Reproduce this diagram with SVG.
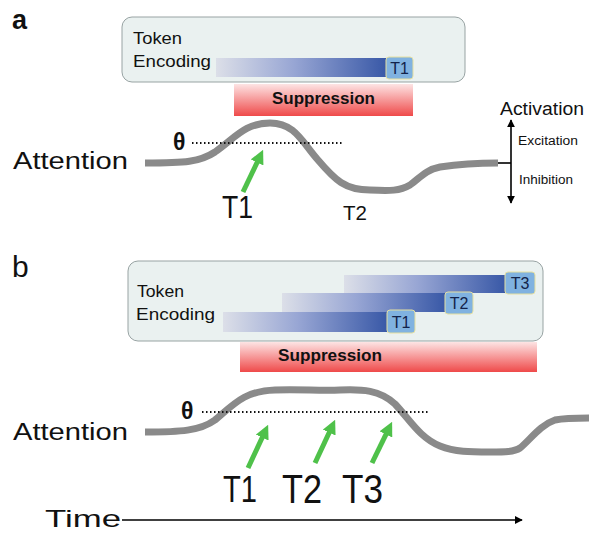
<svg xmlns="http://www.w3.org/2000/svg" width="589" height="533" viewBox="0 0 589 533">
<defs>
<linearGradient id="enc" x1="0" y1="0" x2="1" y2="0">
<stop offset="0" stop-color="#dcdfe8"/>
<stop offset="0.45" stop-color="#98a6d4"/>
<stop offset="1" stop-color="#3757a6"/>
</linearGradient>
<linearGradient id="sup" x1="0" y1="0" x2="0" y2="1">
<stop offset="0" stop-color="#fde4e4"/>
<stop offset="1" stop-color="#ef4a4a"/>
</linearGradient>
<marker id="gh" viewBox="0 0 10 10" refX="2" refY="5" markerWidth="14" markerHeight="14" markerUnits="userSpaceOnUse" orient="auto">
<path d="M0,0 L10,5 L0,10 z" fill="#4fc14a"/>
</marker>
<marker id="bh" viewBox="0 0 10 10" refX="9" refY="5" markerWidth="8" markerHeight="8" markerUnits="userSpaceOnUse" orient="auto-start-reverse">
<path d="M0,0 L10,5 L0,10 z" fill="#000"/>
</marker>
</defs>
<style>
text{font-family:"Liberation Sans",Arial,sans-serif;fill:#111}
.box{fill:#eaf1f0;stroke:#98a3a3;stroke-width:1}
.bar{fill:url(#enc)}
.tb{fill:#80b2e0;stroke:#e6e0a0;stroke-width:1}
.tt{font-size:16px;fill:#13234a;text-anchor:middle}
.sup{fill:url(#sup)}
.supt{font-size:17px;font-weight:bold}
.curve{fill:none;stroke:#8a8a8a;stroke-width:7;stroke-linecap:butt}
.th{fill:none;stroke:#111;stroke-width:2;stroke-dasharray:1.5 2.5}
.theta{font-size:23px;font-weight:bold}
.green{fill:none;stroke:#4fc14a;stroke-width:5;marker-end:url(#gh)}
.blk{fill:none;stroke:#000;stroke-width:1.6}
.lbl{font-size:23px}
</style>

<g id="panel-a">
<text id="label-a" x="12" y="29" font-size="27" font-weight="bold">a</text>
<g id="token-encoding-a">
<rect class="box" x="122" y="17" width="343" height="65" rx="10"/>
<text x="133" y="44" font-size="17" textLength="49" lengthAdjust="spacingAndGlyphs">Token</text>
<text x="133" y="67" font-size="17" textLength="78" lengthAdjust="spacingAndGlyphs">Encoding</text>
<rect class="bar" x="216" y="58" width="172" height="19"/>
<rect class="tb" x="386" y="57" width="27" height="22" rx="3"/>
<text class="tt" x="399.5" y="74">T1</text>
</g>
<g id="suppression-a">
<rect class="sup" x="234" y="84" width="179" height="32"/>
<text class="supt" x="272" y="104" textLength="103" lengthAdjust="spacingAndGlyphs">Suppression</text>
</g>
<g id="attention-a">
<text class="lbl" x="13" y="169" textLength="115" lengthAdjust="spacingAndGlyphs">Attention</text>
<path class="curve" d="M145,163 C185,163 200,162 215,152 C235,138 245,123 270,123 C295,123 302,142 318,160 C335,180 345,190 370,190 C390,191 400,191 410,185 C420,178 425,170 440,167 C460,164 480,163 498,163"/>
<text class="theta" x="173" y="150">θ</text>
<line class="th" x1="192" y1="143" x2="344" y2="143"/>
<text x="222" y="218" font-size="32" textLength="31" lengthAdjust="spacingAndGlyphs">T1</text>
<text x="343" y="220" font-size="21" textLength="24" lengthAdjust="spacingAndGlyphs">T2</text>
</g>
<g id="activation">
<text x="500" y="115" font-size="18" textLength="84" lengthAdjust="spacingAndGlyphs">Activation</text>
<text x="518" y="145" font-size="12" textLength="60" lengthAdjust="spacingAndGlyphs">Excitation</text>
<text x="519" y="184" font-size="12" textLength="54" lengthAdjust="spacingAndGlyphs">Inhibition</text>
</g>
</g>

<g id="panel-b">
<text id="label-b" x="12" y="277" font-size="30">b</text>
<g id="token-encoding-b">
<rect class="box" x="128" y="261" width="415" height="80" rx="10"/>
<text x="137" y="297" font-size="17" textLength="47" lengthAdjust="spacingAndGlyphs">Token</text>
<text x="136" y="320" font-size="17" textLength="79" lengthAdjust="spacingAndGlyphs">Encoding</text>
<rect class="bar" x="344" y="275" width="163" height="18"/>
<rect class="tb" x="505" y="272" width="30" height="22" rx="3"/>
<text class="tt" x="520" y="289">T3</text>
<rect class="bar" x="282" y="293" width="165" height="19"/>
<rect class="tb" x="445" y="292" width="28" height="22" rx="3"/>
<text class="tt" x="459" y="309">T2</text>
<rect class="bar" x="223" y="312" width="166" height="20"/>
<rect class="tb" x="387" y="310" width="28" height="23" rx="3"/>
<text class="tt" x="401" y="328">T1</text>
</g>
<g id="suppression-b">
<rect class="sup" x="240" y="342" width="297" height="30"/>
<text class="supt" x="278" y="361" textLength="104" lengthAdjust="spacingAndGlyphs">Suppression</text>
</g>
<g id="attention-b">
<text class="lbl" x="13" y="440" textLength="115" lengthAdjust="spacingAndGlyphs">Attention</text>
<path class="curve" d="M145,432 C180,432 200,431 215,420 C235,403 245,391 275,390 C300,389 320,391 340,390 C362,389 380,390 395,404 C410,420 420,438 440,446 C455,452 470,452 490,452 C505,452 514,452 520,448 C530,440 540,425 555,420 C565,418 575,418 589,418"/>
<text class="theta" x="181" y="419">θ</text>
<line class="th" x1="202" y1="412" x2="428" y2="412"/>
<text x="223" y="502" font-size="37" textLength="34" lengthAdjust="spacingAndGlyphs">T1</text>
<text x="282" y="503" font-size="41" textLength="40" lengthAdjust="spacingAndGlyphs">T2</text>
<text x="342" y="503" font-size="41" textLength="41" lengthAdjust="spacingAndGlyphs">T3</text>
</g>
<g id="time">
<text x="45" y="527" font-size="24" textLength="76" lengthAdjust="spacingAndGlyphs">Time</text>
</g>
</g>

<g id="connectors">
<line class="green" x1="243" y1="192" x2="258.3" y2="159.9"/>
<line class="green" x1="248" y1="468" x2="263.4" y2="435"/>
<line class="green" x1="315" y1="463" x2="330.4" y2="430"/>
<line class="green" x1="372" y1="463" x2="387.2" y2="431.9"/>
<line class="blk" x1="511" y1="120" x2="511" y2="203" marker-start="url(#bh)" marker-end="url(#bh)"/>
<line class="blk" x1="498" y1="163" x2="511" y2="163"/>
<line class="blk" x1="122" y1="520" x2="522" y2="520" marker-end="url(#bh)"/>
</g>
</svg>
